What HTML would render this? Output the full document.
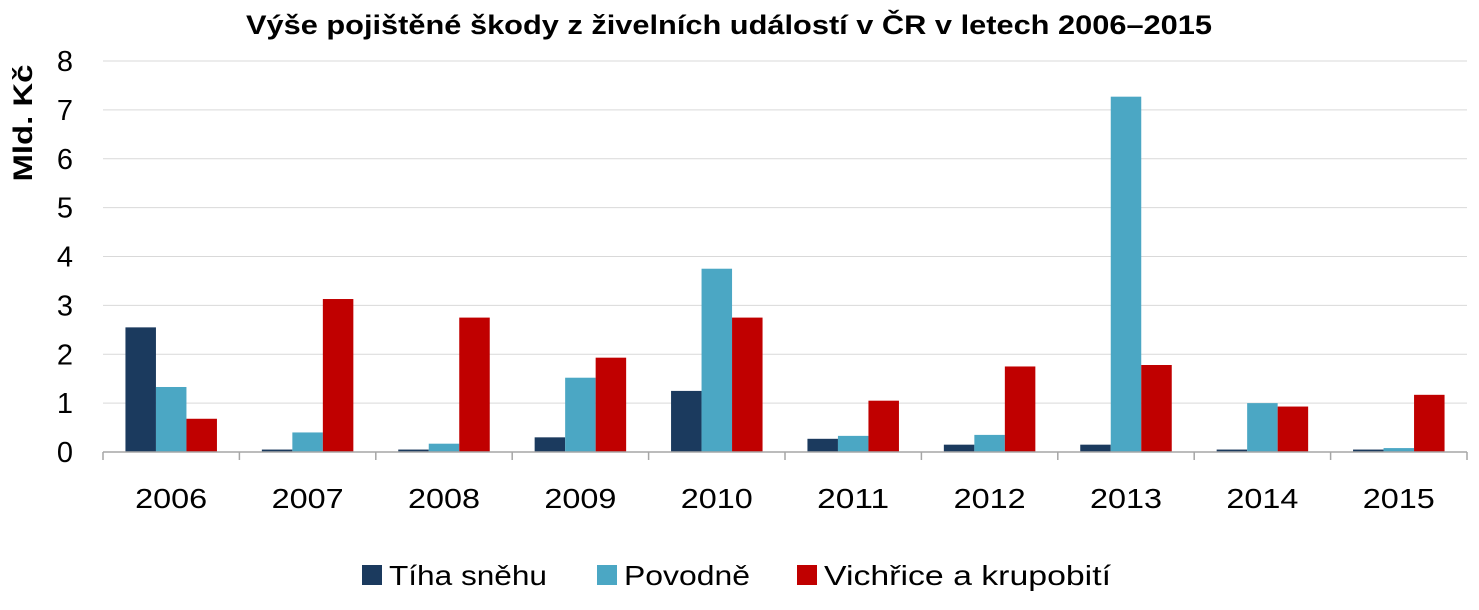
<!DOCTYPE html>
<html><head><meta charset="utf-8"><style>
body{margin:0;background:#fff;}
svg{display:block;font-family:"Liberation Sans",sans-serif;}
</style></head><body>
<svg id="chart" width="1479" height="610" xmlns="http://www.w3.org/2000/svg">
<text x="246" y="34" textLength="966" lengthAdjust="spacingAndGlyphs" font-size="27" font-weight="bold" fill="#000">Výše pojištěné škody z živelních událostí v ČR v letech 2006–2015</text>
<text transform="translate(32,123) rotate(-90)" text-anchor="middle" textLength="117" lengthAdjust="spacingAndGlyphs" font-size="27" font-weight="bold" fill="#000">Mld. Kč</text>
<g id="grid"></g><g id="bars"></g><g id="axes"></g>
<g>
<rect x="362" y="565" width="20" height="20" fill="#1b3a5e"/>
<text x="389" y="585" textLength="158" lengthAdjust="spacingAndGlyphs" font-size="28">Tíha sněhu</text>
<rect x="597" y="565" width="20" height="20" fill="#4ba7c4"/>
<text x="624" y="585" textLength="126" lengthAdjust="spacingAndGlyphs" font-size="28">Povodně</text>
<rect x="797" y="565" width="20" height="20" fill="#c00000"/>
<text x="824" y="585" textLength="287" lengthAdjust="spacingAndGlyphs" font-size="28">Vichřice a krupobití</text>
</g>
</svg>
<script>
const categories=["2006","2007","2008","2009","2010","2011","2012","2013","2014","2015"];
const snow=[2.55,0.05,0.05,0.3,1.25,0.27,0.15,0.15,0.05,0.05];
const flood=[1.33,0.4,0.17,1.52,3.75,0.33,0.35,7.27,1.0,0.08];
const storm=[0.68,3.13,2.75,1.93,2.75,1.05,1.75,1.78,0.93,1.17];
const yTicks=[0,1,2,3,4,5,6,7,8];
const NS="http://www.w3.org/2000/svg";
const x0=103,x1=1467,yTop=61,yBot=452,yMax=8;
const band=(x1-x0)/categories.length;
const y=v=>yBot-(v/yMax)*(yBot-yTop);
const xc=i=>x0+band*(i+0.5);
function mk(tag,attrs,parent){const e=document.createElementNS(NS,tag);for(const k in attrs)e.setAttribute(k,attrs[k]);parent.appendChild(e);return e;}
const grid=document.getElementById('grid'),bars=document.getElementById('bars'),axes=document.getElementById('axes');
yTicks.forEach(t=>{
  if(t>0){const l=mk('line',{x1:x0,x2:x1,y1:y(t),y2:y(t),stroke:'#d9d9d9','stroke-width':1},grid);
  
  }
  const tx=mk('text',{x:x0-30,y:y(t)+10,'text-anchor':'end','font-size':29},axes);
  tx.textContent=t;
  
  
});
const series=[[snow,'#1b3a5e','snow'],[flood,'#4ba7c4','flood'],[storm,'#c00000','storm']];
const bw=30.5;
categories.forEach((c,i)=>{
  series.forEach(([arr,col,nm],s)=>{
    const v=arr[i];const bx=xc(i)+(s-1.5)*bw;
    const r=mk('rect',{x:bx,y:y(v),width:bw,height:yBot-y(v),fill:col},bars);
    
    
  });
  const tx=mk('text',{x:xc(i),y:508,'text-anchor':'middle','font-size':28,textLength:72,lengthAdjust:'spacingAndGlyphs'},axes);
  tx.textContent=c;
  
  
});
const ax=mk('line',{x1:x0,x2:x1,y1:yBot,y2:yBot,stroke:'#a6a6a6','stroke-width':1.5},axes);


for(let i=0;i<=categories.length;i++){
  const tk=mk('line',{x1:x0+band*i,x2:x0+band*i,y1:yBot,y2:yBot+8,stroke:'#a6a6a6','stroke-width':1.5},axes);
  
  
}
</script>
</body></html>
